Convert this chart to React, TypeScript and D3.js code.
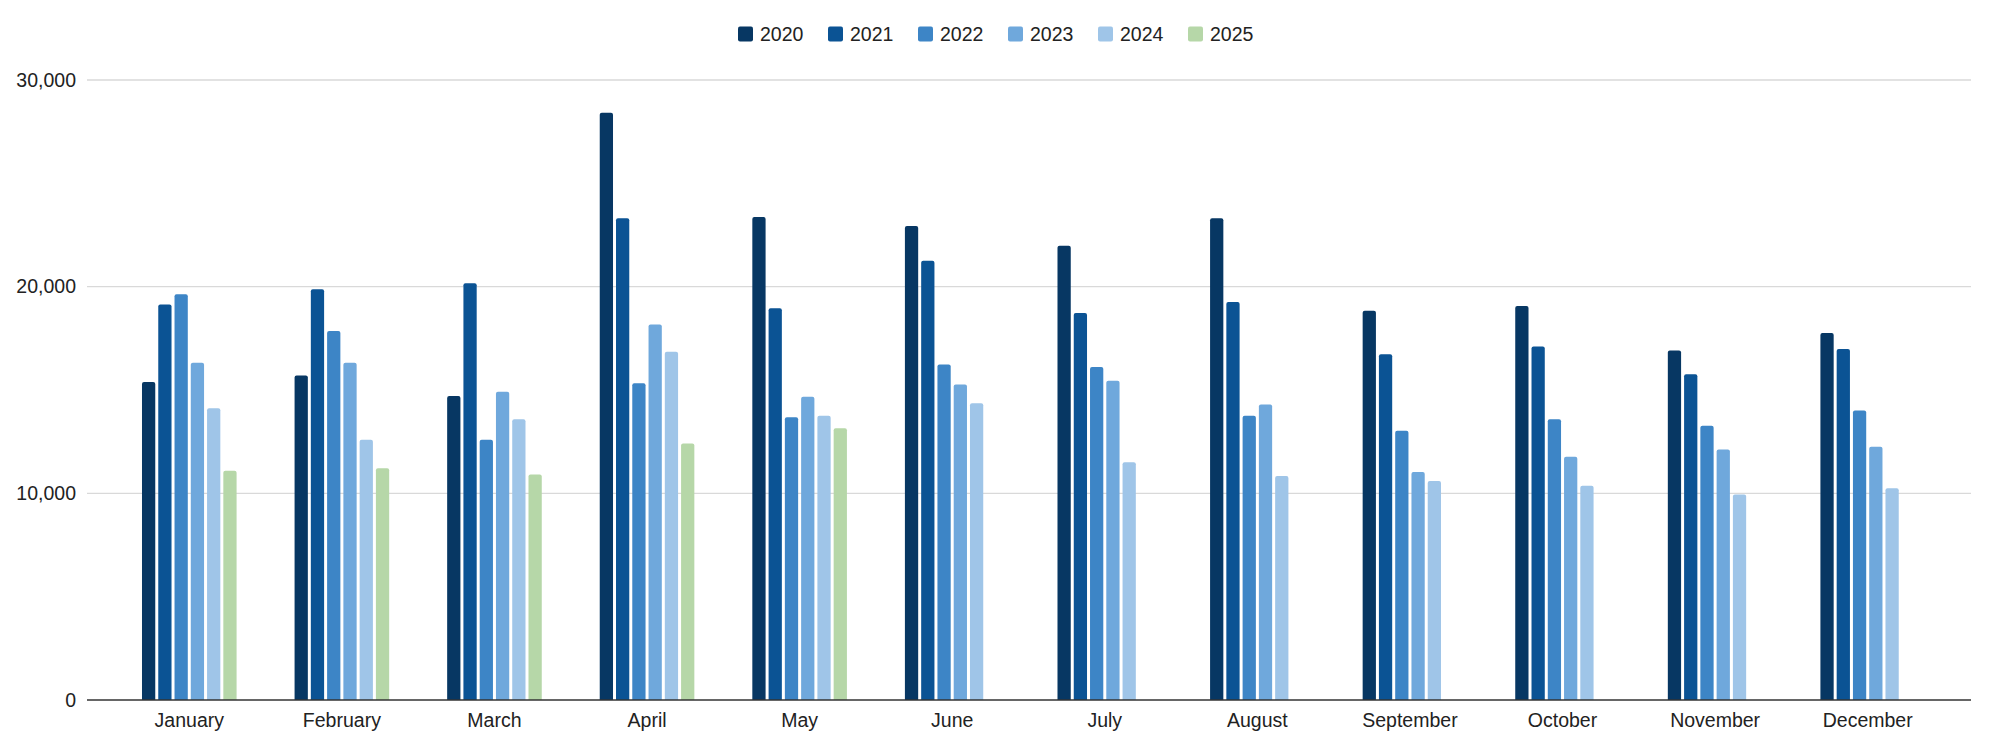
import React, { useEffect, useRef } from "react";
import * as d3 from "d3";

const months = ["January","February","March","April","May","June","July","August","September","October","November","December"];
const years = ["2020","2021","2022","2023","2024","2025"];
const colors = ["#073763","#0b5394","#3d85c6","#6fa8dc","#9fc5e8","#b6d7a8"];
const v2020 = [15390,15700,14710,28420,23370,22940,21980,23310,18830,19070,16910,17760];
const v2021 = [19140,19880,20160,23310,18950,21260,18720,19260,16730,17100,15760,16980];
const v2022 = [19630,17860,12590,15330,13680,16230,16110,13750,13030,13580,13270,14010];
const v2023 = [16320,16320,14920,18170,14670,15270,15450,14300,11030,11770,12120,12260];
const v2024 = [14120,12590,13580,16850,13750,14360,11500,10840,10600,10370,9940,10250];
const v2025 = [11090,11210,10910,12410,13150];
const series = [v2020, v2021, v2022, v2023, v2024, v2025];
const yTicks = [0, 10000, 20000, 30000];

const W = 1989, H = 747;
const FONT = "'Liberation Sans', Arial, sans-serif";

export default function App() {
  const ref = useRef<SVGSVGElement>(null);
  useEffect(() => {
    const svg = d3.select(ref.current);
    svg.selectAll("*").remove();
    const plotL = 87, plotR = 1971, plotT = 80, plotB = 700;
    const y = d3.scaleLinear().domain([0, 30000]).range([plotB, plotT]);
    const x0 = d3.scaleBand<string>().domain(months).range([113, 1944]).padding(0);
    const groupW = 97.6;
    const x1 = d3.scaleBand<string>().domain(years).range([-groupW / 2, groupW / 2]).padding(0);
    const gap = 3;
    const bw = x1.bandwidth() - gap;

    // gridlines
    svg.append("g").selectAll("line").data(yTicks.filter(t => t > 0)).join("line")
      .attr("x1", plotL).attr("x2", plotR)
      .attr("y1", d => y(d)).attr("y2", d => y(d))
      .attr("stroke", "#d9d9d9").attr("stroke-width", 1.3);

    // y labels
    svg.append("g").selectAll("text").data(yTicks).join("text")
      .attr("x", 76).attr("y", d => y(d)).attr("dy", "0.35em")
      .attr("text-anchor", "end").attr("font-family", FONT).attr("font-size", 19.5)
      .attr("fill", "#222").text(d => d3.format(",")(d));

    // bars
    const r = 2;
    series.forEach((vals, si) => {
      svg.append("g").selectAll("path").data(vals).join("path")
        .attr("fill", colors[si])
        .attr("d", (v, i) => {
          const cx = (x0(months[i]) as number) + x0.bandwidth() / 2;
          const xl = cx + (x1(years[si]) as number) + gap / 2;
          const xr = xl + bw;
          const yt = y(v);
          const p = d3.path();
          p.moveTo(xl, plotB);
          p.lineTo(xl, yt + r);
          p.quadraticCurveTo(xl, yt, xl + r, yt);
          p.lineTo(xr - r, yt);
          p.quadraticCurveTo(xr, yt, xr, yt + r);
          p.lineTo(xr, plotB);
          p.closePath();
          return p.toString();
        });
    });

    // baseline
    svg.append("line").attr("x1", plotL).attr("x2", plotR)
      .attr("y1", plotB).attr("y2", plotB).attr("stroke", "#333").attr("stroke-width", 1.3);

    // x labels
    svg.append("g").selectAll("text").data(months).join("text")
      .attr("x", d => (x0(d) as number) + x0.bandwidth() / 2).attr("y", 727)
      .attr("text-anchor", "middle").attr("font-family", FONT).attr("font-size", 19.5)
      .attr("fill", "#222").text(d => d);

    // legend
    const lg = svg.append("g");
    const lx0 = 738, step = 90, ly = 34, sq = 15;
    years.forEach((yr, i) => {
      const lx = lx0 + i * step;
      lg.append("rect").attr("x", lx).attr("y", ly - sq / 2).attr("width", sq).attr("height", sq)
        .attr("rx", 2).attr("fill", colors[i]);
      lg.append("text").attr("x", lx + 22).attr("y", ly).attr("dy", "0.35em")
        .attr("font-family", FONT).attr("font-size", 19.5).attr("fill", "#222").text(yr);
    });
  }, []);
  return (
    <svg ref={ref} width={W} height={H}
      style={{ position: "absolute", left: 0, top: 0, background: "#fff" }} />
  );
}
